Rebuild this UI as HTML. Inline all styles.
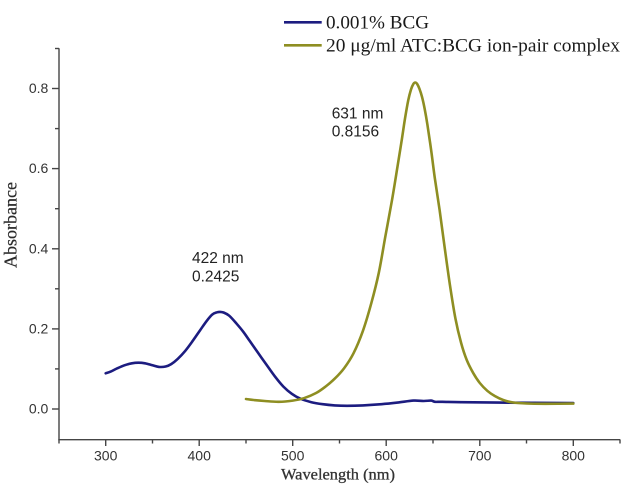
<!DOCTYPE html>
<html>
<head>
<meta charset="utf-8">
<style>
  html,body{margin:0;padding:0;background:#fff;}
  svg{display:block;}
</style>
</head>
<body>
<svg id="chart" width="641" height="495" viewBox="0 0 641 495" xmlns="http://www.w3.org/2000/svg">
  <rect width="641" height="495" fill="#fff"/>

  <!-- Axes -->
  <g stroke="#454545" stroke-width="1.4" fill="none">
    <line x1="59" y1="48.3" x2="59" y2="439.7"/>
    <line x1="58.3" y1="439.7" x2="620.3" y2="439.7"/>
    <line x1="52" y1="409" x2="59" y2="409"/>
    <line x1="52" y1="328.9" x2="59" y2="328.9"/>
    <line x1="52" y1="248.8" x2="59" y2="248.8"/>
    <line x1="52" y1="168.6" x2="59" y2="168.6"/>
    <line x1="52" y1="88.5" x2="59" y2="88.5"/>
    <line x1="55" y1="368.9" x2="59" y2="368.9"/>
    <line x1="55" y1="288.8" x2="59" y2="288.8"/>
    <line x1="55" y1="208.7" x2="59" y2="208.7"/>
    <line x1="55" y1="128.6" x2="59" y2="128.6"/>
    <line x1="55" y1="48.5" x2="59" y2="48.5"/>
    <line x1="105.7" y1="439.7" x2="105.7" y2="446"/>
    <line x1="199.2" y1="439.7" x2="199.2" y2="446"/>
    <line x1="292.7" y1="439.7" x2="292.7" y2="446"/>
    <line x1="386.2" y1="439.7" x2="386.2" y2="446"/>
    <line x1="479.8" y1="439.7" x2="479.8" y2="446"/>
    <line x1="573.3" y1="439.7" x2="573.3" y2="446"/>
    <line x1="59" y1="439.7" x2="59" y2="443.5"/>
    <line x1="152.5" y1="439.7" x2="152.5" y2="443.5"/>
    <line x1="246" y1="439.7" x2="246" y2="443.5"/>
    <line x1="339.5" y1="439.7" x2="339.5" y2="443.5"/>
    <line x1="433" y1="439.7" x2="433" y2="443.5"/>
    <line x1="526.5" y1="439.7" x2="526.5" y2="443.5"/>
    <line x1="620" y1="439.7" x2="620" y2="443.5"/>
  </g>

  <!-- Tick labels -->
  <g font-family="'Liberation Sans', Arial, sans-serif" font-size="14" fill="#333">
    <text x="48.3" y="413.5" text-anchor="end">0.0</text>
    <text x="48.3" y="333.4" text-anchor="end">0.2</text>
    <text x="48.3" y="253.3" text-anchor="end">0.4</text>
    <text x="48.3" y="173.1" text-anchor="end">0.6</text>
    <text x="48.3" y="93" text-anchor="end">0.8</text>
    <text x="105.7" y="460.7" text-anchor="middle">300</text>
    <text x="199.2" y="460.7" text-anchor="middle">400</text>
    <text x="292.7" y="460.7" text-anchor="middle">500</text>
    <text x="386.2" y="460.7" text-anchor="middle">600</text>
    <text x="479.8" y="460.7" text-anchor="middle">700</text>
    <text x="573.3" y="460.7" text-anchor="middle">800</text>
  </g>

  <!-- Axis titles -->
  <text x="338" y="479.5" text-anchor="middle" font-family="'Liberation Serif', 'Times New Roman', serif" font-size="16" fill="#333" stroke="#333" stroke-width="0.3" textLength="114" lengthAdjust="spacingAndGlyphs">Wavelength (nm)</text>
  <text transform="translate(16.5,225) rotate(-90)" x="0" y="0" text-anchor="middle" font-family="'Liberation Serif', 'Times New Roman', serif" font-size="18" fill="#2a2a2a" stroke="#2a2a2a" stroke-width="0.2" textLength="86" lengthAdjust="spacingAndGlyphs">Absorbance</text>

  <!-- BCG (blue) -->
  <polyline class="smooth" fill="none" stroke="#1c1c80" stroke-width="2.6" stroke-linejoin="round" stroke-linecap="round"
    points="105.7,373.3 110.4,371.7 116.9,368.5 124.4,365.3 131.9,363.3 138.4,362.7 145.0,363.3 152.5,365.3 159.0,366.9 165.6,366.5 171.2,364.1 177.7,358.9 185.2,350.9 192.7,340.9 200.2,330.1 206.7,320.9 212.3,314.5 217.0,312.3 219.8,311.9 223.5,312.5 229.2,315.7 236.6,323.7 243.2,331.7 249.7,340.9 258.1,352.9 266.6,364.9 275.0,376.6 283.4,386.6 291.8,393.8 300.2,398.6 311.4,402.2 322.7,404.2 334.8,405.4 347.0,405.8 362.9,405.4 381.6,404.2 397.5,402.6 413.4,400.6 423.7,401.0 431.2,400.6 434.9,401.8 442.4,401.8 461.1,402.2 498.5,402.6 573.3,403.0"/>

  <!-- ATC:BCG (olive) -->
  <polyline class="smooth" fill="none" stroke="#8e8e22" stroke-width="2.6" stroke-linejoin="round" stroke-linecap="round"
    points="245.98,399.0 255.3,400.2 264.7,401.0 278.7,401.8 292.7,400.6 303.9,398.2 316.1,393.0 325.5,386.6 334.8,378.6 344.2,368.1 353.5,353.3 362.9,330.9 371.3,303.2 378.8,272.8 385.3,236.7 391.9,200.7 397.5,166.6 401.5,141.6 405.0,118.6 408.2,100.5 411.0,89.5 413.4,83.9 415.3,82.5 417.1,83.9 419.4,88.7 422.0,96.8 424.6,108.5 427.4,124.6 431.2,150.6 434.9,178.7 439.6,209.9 444.3,244.8 449.9,284.8 455.5,318.9 461.1,342.9 466.7,359.9 473.3,373.2 479.8,383.0 487.3,390.8 494.8,396.0 503.2,400.0 512.5,402.4 526.5,403.5 545.2,403.8 573.3,403.6"/>

  <!-- Annotations -->
  <g font-family="'Liberation Sans', Arial, sans-serif" font-size="15.5" fill="#222">
    <text x="331.7" y="118.3">631 nm</text>
    <text x="331.7" y="136.7">0.8156</text>
    <text x="192" y="263">422 nm</text>
    <text x="192" y="281.5">0.2425</text>
  </g>

  <!-- Legend -->
  <line x1="284" y1="22.3" x2="321.7" y2="22.3" stroke="#1c1c80" stroke-width="2.6"/>
  <line x1="284" y1="45.3" x2="321.7" y2="45.3" stroke="#8e8e22" stroke-width="2.6"/>
  <g font-family="'Liberation Serif', 'Times New Roman', serif" font-size="18.5" fill="#1a1a1a">
    <text x="326" y="28.4" textLength="103" lengthAdjust="spacingAndGlyphs">0.001% BCG</text>
    <text x="326" y="51.5" textLength="294" lengthAdjust="spacingAndGlyphs">20 μg/ml ATC:BCG ion-pair complex</text>
  </g>
</svg>
<script>
(function(){
  var ns="http://www.w3.org/2000/svg";
  var pls=document.querySelectorAll("polyline.smooth");
  for(var k=0;k<pls.length;k++){
    var pl=pls[k];
    var raw=pl.getAttribute("points").trim().split(/\s+/);
    var p=raw.map(function(s){var a=s.split(",");return [parseFloat(a[0]),parseFloat(a[1])];});
    var n=p.length;
    var d="M"+p[0][0]+","+p[0][1];
    for(var i=0;i<n-1;i++){
      var p0=p[i>0?i-1:i],p1=p[i],p2=p[i+1],p3=p[i+2<n?i+2:i+1];
      var c1x=p1[0]+(p2[0]-p0[0])/6,c1y=p1[1]+(p2[1]-p0[1])/6;
      var c2x=p2[0]-(p3[0]-p1[0])/6,c2y=p2[1]-(p3[1]-p1[1])/6;
      d+=" C"+c1x.toFixed(2)+","+c1y.toFixed(2)+" "+c2x.toFixed(2)+","+c2y.toFixed(2)+" "+p2[0]+","+p2[1];
    }
    var path=document.createElementNS(ns,"path");
    path.setAttribute("d",d);
    ["fill","stroke","stroke-width","stroke-linejoin","stroke-linecap"].forEach(function(a){path.setAttribute(a,pl.getAttribute(a));});
    pl.parentNode.replaceChild(path,pl);
  }
})();
</script>
</body>
</html>
